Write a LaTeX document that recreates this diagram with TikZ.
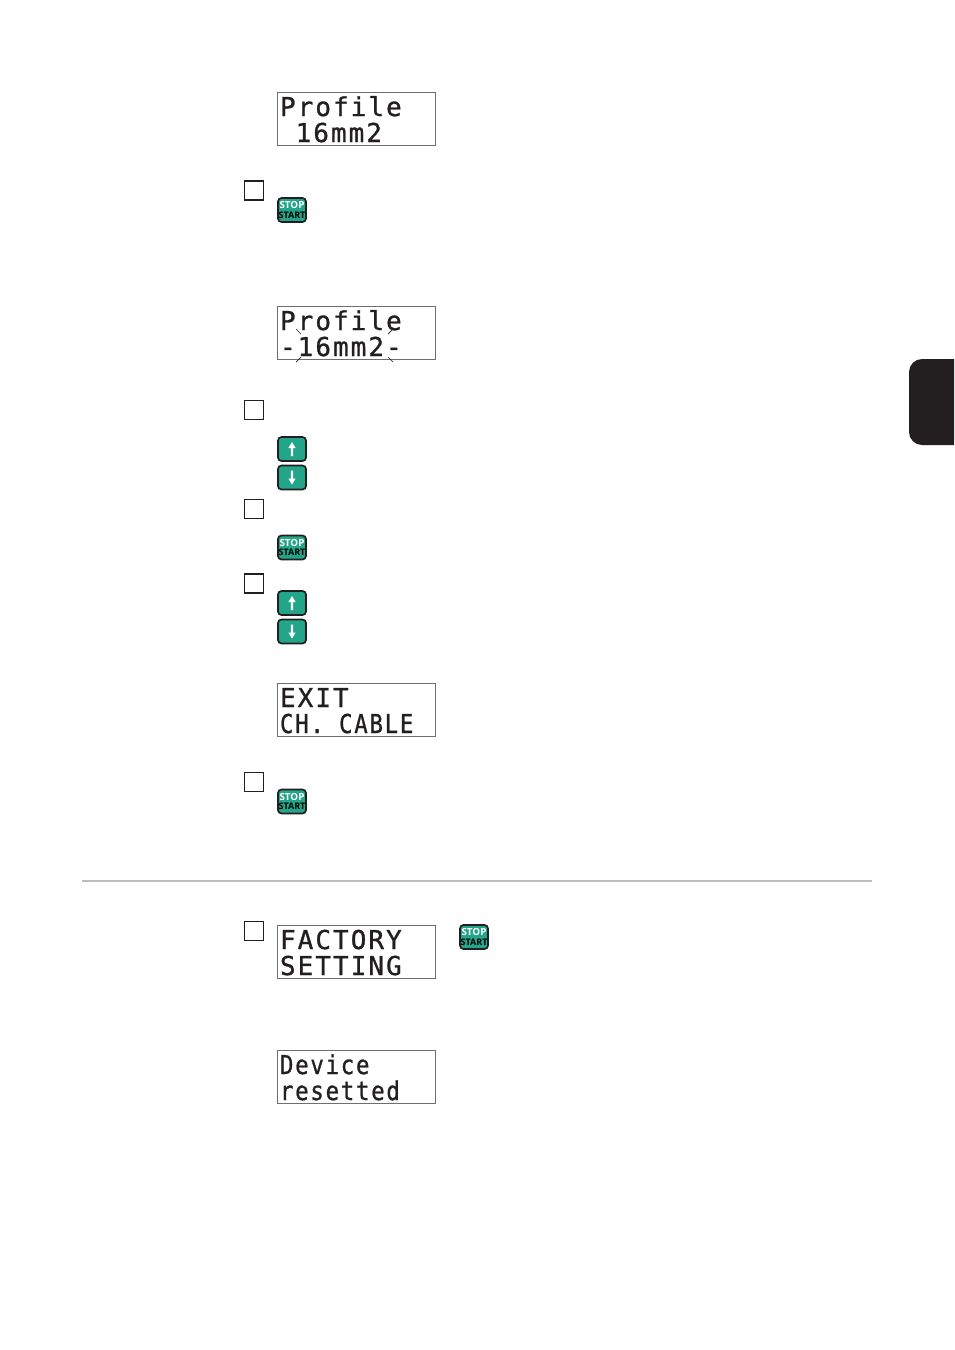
\documentclass[tikz,border=0pt]{standalone}
\usepackage{fontspec}
\newfontfamily\lcdfont{DejaVu Sans Mono}[LetterSpace=7.8,FakeBold=1]
\newfontfamily\btnfont{Open Sans}
\definecolor{inkk}{HTML}{231F20}
\definecolor{teal1}{HTML}{22A588}
\definecolor{frameg}{HTML}{6D6E71}
\tikzset{
  lcdbox/.style={draw=frameg,line width=0.9pt,fill=white,minimum width=158.5pt,minimum height=53pt,inner sep=0pt,outer sep=0pt},
  lcdtext/.style={font=\fontsize{26}{26}\selectfont\lcdfont,text=inkk,inner sep=0pt,outer sep=0pt,anchor=base west},
  chk/.style={draw=inkk,line width=1.3pt,fill=white,minimum width=19pt,minimum height=19pt,inner sep=0pt},
  btn/.style={draw=inkk,line width=1.7pt,fill=teal1,rounded corners=3.5pt,minimum width=28pt,minimum height=24pt,inner sep=0pt},
  stoplbl/.style={font=\fontsize{9.8}{9.8}\selectfont\btnfont\bfseries,text=white,inner sep=0pt},
  startlbl/.style={font=\fontsize{9}{9}\selectfont\btnfont\bfseries,text=black,inner sep=0pt},
  flash/.style={draw=inkk,line width=0.7pt},
}
\newcommand{\lcd}[5]{%
  \node[lcdbox,anchor=north west] (#1) at (277,#2) {};
  \node[lcdtext] (#1a) at (280,#2+24) {#4};
  \node[lcdtext] (#1b) at (280,#2+50) {#5};
}
\newcommand{\stopstart}[3]{%
  \node[btn] (#1) at (#2,#3) {};
  \node[stoplbl] (#1s) at (#2,#3-4.6) {STOP};
  \node[startlbl] (#1t) at (#2,#3+4.8) {START};
}
\newcommand{\upbtn}[3]{%
  \node[btn] (#1) at (#2,#3) {};
  \fill[white] (#2-1.2,#3+7) -- (#2-1.2,#3-1) -- (#2-3.6,#3-1) -- (#2,#3-7) -- (#2+3.6,#3-1) -- (#2+1.2,#3-1) -- (#2+1.2,#3+7) -- cycle;
}
\newcommand{\downbtn}[3]{%
  \node[btn] (#1) at (#2,#3) {};
  \fill[white] (#2-1.2,#3-7) -- (#2-1.2,#3+1) -- (#2-3.6,#3+1) -- (#2,#3+7) -- (#2+3.6,#3+1) -- (#2+1.2,#3+1) -- (#2+1.2,#3-7) -- cycle;
}
\newcommand{\nar}[1]{\scalebox{0.86}[1]{#1}}
\begin{document}
\begin{tikzpicture}[x=1pt,y=-1pt]
\useasboundingbox (0,0) rectangle (954,1350);
\fill[white] (0,0) rectangle (954,1350);
% side tab
\fill[inkk] (954,445) [rounded corners=13pt] -- (909,445) -- (909,359) [sharp corners] -- (954,359) -- cycle;
% rule
\draw[draw=black!25,line width=1.2pt] (82,881) -- (872,881);
% displays
\lcd{d1}{92}{}{Profile}{\phantom{-}16mm2}
\lcd{d2}{306}{}{Profile}{-16mm2-}
\lcd{d3}{683}{}{EXIT}{\nar{CH. CABLE}}
\lcd{d4}{925}{}{FACTORY}{SETTING}
\lcd{d5}{1050}{}{\nar{Device}}{\nar{resetted}}
% flash ticks
\draw[flash] (296,329) -- (301,334);
\draw[flash] (393,329) -- (388,334);
\draw[flash] (301,357) -- (296,362);
\draw[flash] (388,357) -- (393,362);
% check boxes
\node[chk] (c1) at (254,190.5) {};
\node[chk] (c2) at (254,410) {};
\node[chk] (c3) at (254,509) {};
\node[chk] (c4) at (254,583.5) {};
\node[chk] (c5) at (254,782) {};
\node[chk] (c6) at (254,931) {};
% buttons
\stopstart{b1}{292}{210}
\upbtn{b2}{292}{449}
\downbtn{b3}{292}{477.5}
\stopstart{b4}{292}{547.5}
\upbtn{b5}{292}{603}
\downbtn{b6}{292}{631.5}
\stopstart{b7}{292}{801.5}
\stopstart{b8}{474}{937}
\end{tikzpicture}
\end{document}
